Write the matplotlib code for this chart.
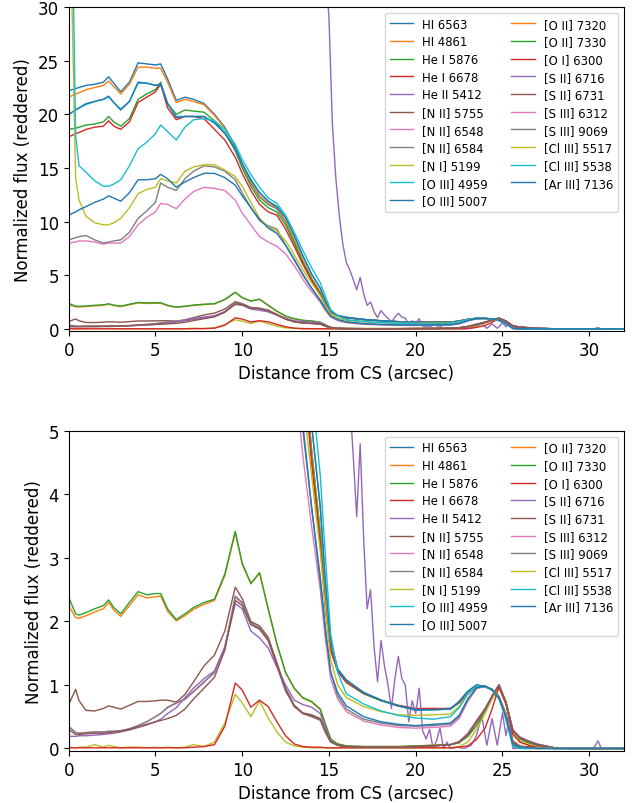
import matplotlib
matplotlib.use("Agg")
import matplotlib.pyplot as plt

# Distance from the central star (arcsec) shared by most profiles
distance = [0, 0.4, 0.6, 1.0, 1.5, 2.0, 2.3, 2.6, 3.0, 3.5,
            4.0, 4.5, 5.0, 5.3, 5.7, 6.2, 6.7, 7.2, 7.8, 8.4,
            9.0, 9.6, 10.0, 10.5, 11.0, 11.5, 12.0, 12.5, 13.0, 13.5,
            14.0, 14.5, 14.8, 15.1, 15.5, 16.0, 17.0, 18.0, 19.0, 20.0,
            21.0, 22.0, 22.5, 23.0, 23.5, 24.0, 24.4, 24.8, 25.2, 25.6,
            26.0, 26.5, 27.0, 28.0, 29.0, 30.0, 31.0, 32.0]

hi_6563 = [22.2, 22.4, 22.5, 22.7, 22.8, 23.0, 23.5, 22.9, 22.1, 23.0,
           24.8, 24.7, 24.6, 24.7, 23.3, 21.3, 21.6, 21.4, 21.0, 20.0,
           18.8, 17.0, 15.3, 13.6, 12.3, 11.6, 11.2, 10.0, 8.2, 6.3,
           4.7, 3.4, 2.3, 1.6, 1.25, 1.06, 0.88, 0.76, 0.67, 0.61,
           0.62, 0.63, 0.73, 0.88, 0.99, 0.98, 0.93, 0.82, 0.55, 0.12,
           0.04, 0.02, 0.01, 0.005, 0, 0, 0, 0]
hi_4861 = [21.6, 21.9, 22.0, 22.3, 22.5, 22.7, 23.1, 22.6, 21.9, 22.8,
           24.4, 24.4, 24.3, 24.3, 23.0, 21.1, 21.4, 21.2, 20.9, 19.9,
           18.7, 16.9, 15.3, 13.7, 12.4, 11.7, 11.3, 10.1, 8.3, 6.4,
           4.7, 3.4, 2.3, 1.6, 1.25, 1.06, 0.88, 0.76, 0.67, 0.61,
           0.62, 0.63, 0.72, 0.88, 0.99, 0.98, 0.93, 0.82, 0.55, 0.12,
           0.04, 0.02, 0.01, 0.005, 0, 0, 0, 0]
he1_5876 = [18.6, 18.7, 18.8, 19.0, 19.1, 19.3, 19.8, 19.3, 18.9, 19.6,
            21.4, 21.9, 22.3, 23.0, 21.0, 20.0, 20.4, 20.3, 20.2, 19.4,
            18.3, 16.6, 15.0, 13.3, 12.0, 11.3, 10.9, 9.7, 8.0, 6.2,
            4.6, 3.3, 2.2, 1.55, 1.22, 1.04, 0.86, 0.75, 0.67, 0.60,
            0.61, 0.62, 0.72, 0.87, 0.98, 0.97, 0.92, 0.80, 0.52, 0.10,
            0.03, 0.02, 0.01, 0, 0, 0, 0, 0]
he1_6678 = [17.9, 18.2, 18.3, 18.6, 18.8, 18.9, 19.4, 18.9, 18.6, 19.3,
            21.1, 21.6, 22.1, 22.8, 20.6, 19.5, 19.8, 19.8, 19.6, 18.6,
            17.6, 16.0, 14.5, 12.9, 11.6, 10.9, 10.6, 9.3, 7.7, 6.0,
            4.5, 3.2, 2.2, 1.55, 1.22, 1.04, 0.87, 0.76, 0.68, 0.63,
            0.63, 0.63, 0.72, 0.87, 0.98, 0.97, 0.92, 0.80, 0.52, 0.10,
            0.03, 0.02, 0.01, 0, 0, 0, 0, 0]

# He II 5412 is sampled on its own, finer grid
he2_distance = [0, 4, 8, 12, 14, 14.6, 15.0, 15.2, 15.4, 15.6,
                15.8, 16.0, 16.2, 16.4, 16.6, 16.8, 17.0, 17.2, 17.4, 17.6,
                17.8, 18.0, 18.2, 18.4, 18.6, 18.8, 19.0, 19.2, 19.4, 19.6,
                19.8, 20.0, 20.2, 20.4, 20.6, 20.8, 21.0, 21.2, 21.4, 21.6,
                21.8, 22.0, 22.4, 22.8, 23.2, 23.5, 23.8, 24.1, 24.4, 24.7,
                25.0, 25.2, 25.4, 25.6, 26.0, 27.0, 28.0, 29.0, 30.0, 30.3,
                30.5, 30.7, 31.0, 32.0]
he2_5412 = [120, 115, 105, 80, 50, 38, 29, 19, 14, 10.5,
            7.9, 6.2, 5.5, 4.6, 3.65, 4.8, 3.3, 2.2, 2.5, 1.6,
            1.05, 1.7, 1.3, 1.0, 0.63, 1.1, 1.45, 1.1, 1.0, 0.42,
            0.75, 0.55, 0.95, 0.28, 0.15, 0.3, 0.0, 0.12, 0.32, 0.0,
            0.1, 0.0, 0.02, 0.0, 0.05, 0.2, 0.52, 0.05, 0.47, 0.05,
            0.56, 0.2, 0.5, 0.0, 0.0, 0.0, 0.01, 0.0, 0.0, 0.02,
            0.12, 0.0, 0.0, 0.0]

nii_5755 = [0.69, 0.93, 0.75, 0.60, 0.59, 0.63, 0.67, 0.65, 0.62, 0.68,
            0.74, 0.74, 0.75, 0.76, 0.76, 0.73, 0.85, 1.05, 1.30, 1.47,
            1.85, 2.54, 2.36, 2.00, 1.93, 1.75, 1.35, 0.95, 0.68, 0.56,
            0.53, 0.47, 0.28, 0.11, 0.05, 0.03, 0.02, 0.02, 0.02, 0.03,
            0.04, 0.06, 0.10, 0.22, 0.42, 0.62, 0.82, 1.00, 0.72, 0.28,
            0.17, 0.11, 0.06, 0.01, 0, 0, 0, 0]
nii_6548 = [0.34, 0.25, 0.24, 0.25, 0.26, 0.26, 0.27, 0.27, 0.28, 0.31,
            0.36, 0.42, 0.50, 0.55, 0.64, 0.71, 0.77, 0.89, 1.04, 1.19,
            1.58, 2.38, 2.28, 1.96, 1.88, 1.70, 1.30, 0.92, 0.66, 0.55,
            0.50, 0.44, 0.25, 0.10, 0.05, 0.03, 0.02, 0.02, 0.02, 0.03,
            0.04, 0.06, 0.11, 0.24, 0.44, 0.63, 0.82, 0.99, 0.73, 0.30,
            0.18, 0.12, 0.07, 0.01, 0, 0, 0, 0]
nii_6584 = [0.35, 0.25, 0.24, 0.25, 0.26, 0.26, 0.27, 0.27, 0.28, 0.31,
            0.36, 0.42, 0.50, 0.55, 0.65, 0.72, 0.78, 0.90, 1.05, 1.20,
            1.60, 2.40, 2.30, 1.98, 1.90, 1.72, 1.30, 0.90, 0.68, 0.55,
            0.50, 0.45, 0.25, 0.10, 0.05, 0.03, 0.02, 0.02, 0.02, 0.03,
            0.04, 0.06, 0.10, 0.22, 0.42, 0.62, 0.82, 1.00, 0.72, 0.28,
            0.17, 0.11, 0.06, 0.01, 0, 0, 0, 0]
ni_5199 = [0.02, 0.01, 0.02, 0.02, 0.06, 0.02, 0.05, 0.03, 0.01, 0.02,
           0.02, 0.01, 0.02, 0.01, 0.02, 0.01, 0.02, 0.06, 0.03, 0.10,
           0.40, 0.85, 0.72, 0.50, 0.75, 0.48, 0.26, 0.10, 0.04, 0.02,
           0.01, 0.01, 0.01, 0.01, 0.01, 0.01, 0.01, 0.01, 0.01, 0.01,
           0.01, 0.01, 0.03, 0.10, 0.30, 0.55, 0.78, 0.95, 0.70, 0.25,
           0.12, 0.06, 0.02, 0, 0, 0, 0, 0]
oiii_4959 = [20.0, 20.4, 20.6, 20.9, 21.2, 21.4, 21.6, 21.1, 20.5, 21.2,
             22.9, 22.9, 22.7, 22.8, 21.0, 19.8, 19.8, 19.8, 19.8, 19.2,
             18.3, 16.9, 15.4, 13.9, 12.7, 11.9, 11.4, 10.4, 8.7, 6.8,
             5.1, 3.8, 2.6, 1.7, 1.25, 1.08, 0.88, 0.76, 0.67, 0.61,
             0.61, 0.62, 0.74, 0.90, 1.0, 0.98, 0.92, 0.78, 0.50, 0.08,
             0.02, 0.01, 0.005, 0, 0, 0, 0, 0]
oiii_5007 = [20.0, 20.4, 20.6, 21.0, 21.2, 21.4, 21.7, 21.1, 20.4, 21.2,
             23.0, 22.9, 22.7, 22.8, 21.0, 19.7, 19.8, 19.8, 19.8, 19.2,
             18.2, 16.8, 15.4, 13.9, 12.7, 11.9, 11.4, 10.4, 8.7, 6.8,
             5.1, 3.8, 2.6, 1.7, 1.25, 1.08, 0.88, 0.76, 0.67, 0.61,
             0.61, 0.62, 0.74, 0.90, 1.0, 0.98, 0.92, 0.78, 0.50, 0.08,
             0.02, 0.01, 0.005, 0, 0, 0, 0, 0]
oii_7320 = [2.25, 2.06, 2.05, 2.09, 2.15, 2.20, 2.30, 2.18, 2.08, 2.25,
            2.42, 2.37, 2.39, 2.40, 2.16, 2.01, 2.09, 2.19, 2.27, 2.33,
            2.72, 3.40, 2.90, 2.59, 2.76, 2.19, 1.64, 1.19, 0.94, 0.79,
            0.73, 0.61, 0.37, 0.15, 0.07, 0.04, 0.03, 0.03, 0.03, 0.04,
            0.05, 0.06, 0.09, 0.19, 0.36, 0.60, 0.82, 0.99, 0.74, 0.28,
            0.15, 0.09, 0.05, 0.01, 0, 0, 0, 0]
oii_7330 = [2.38, 2.12, 2.10, 2.14, 2.20, 2.25, 2.34, 2.22, 2.12, 2.30,
            2.47, 2.42, 2.44, 2.44, 2.20, 2.03, 2.12, 2.22, 2.30, 2.35,
            2.75, 3.42, 2.92, 2.60, 2.77, 2.20, 1.65, 1.20, 0.95, 0.80,
            0.74, 0.62, 0.38, 0.15, 0.07, 0.04, 0.03, 0.03, 0.03, 0.04,
            0.05, 0.06, 0.09, 0.19, 0.36, 0.60, 0.82, 0.99, 0.74, 0.28,
            0.15, 0.09, 0.05, 0.01, 0, 0, 0, 0]
oi_6300 = [0.01, 0.01, 0.01, 0.01, 0.01, 0.01, 0.01, 0.01, 0.01, 0.01,
           0.01, 0.01, 0.01, 0.01, 0.01, 0.01, 0.01, 0.02, 0.03, 0.06,
           0.35, 1.03, 0.92, 0.65, 0.76, 0.66, 0.42, 0.20, 0.07, 0.03,
           0.02, 0.02, 0.01, 0.01, 0.01, 0.01, 0.01, 0.01, 0.01, 0.01,
           0.01, 0.01, 0.02, 0.04, 0.14, 0.32, 0.62, 0.97, 0.70, 0.22,
           0.10, 0.05, 0.02, 0, 0, 0, 0, 0]
sii_6716 = [0.19, 0.19, 0.20, 0.20, 0.21, 0.22, 0.23, 0.24, 0.26, 0.29,
            0.33, 0.37, 0.42, 0.46, 0.55, 0.64, 0.80, 0.95, 1.10, 1.22,
            1.60, 2.28, 2.20, 1.85, 1.74, 1.58, 1.28, 1.00, 0.76, 0.69,
            0.65, 0.55, 0.32, 0.12, 0.05, 0.03, 0.02, 0.02, 0.02, 0.03,
            0.04, 0.06, 0.10, 0.22, 0.42, 0.62, 0.82, 1.00, 0.72, 0.28,
            0.18, 0.12, 0.07, 0.01, 0, 0, 0, 0]
sii_6731 = [0.30, 0.22, 0.22, 0.23, 0.24, 0.24, 0.25, 0.26, 0.27, 0.30,
            0.34, 0.38, 0.42, 0.44, 0.47, 0.52, 0.62, 0.78, 0.95, 1.12,
            1.55, 2.33, 2.25, 1.95, 1.88, 1.70, 1.32, 0.93, 0.66, 0.55,
            0.52, 0.46, 0.27, 0.11, 0.05, 0.03, 0.02, 0.02, 0.02, 0.03,
            0.04, 0.06, 0.10, 0.22, 0.42, 0.62, 0.82, 1.00, 0.72, 0.28,
            0.17, 0.11, 0.06, 0.01, 0, 0, 0, 0]
siii_6312 = [8.0, 8.1, 8.2, 8.2, 8.1, 7.9, 8.0, 8.0, 8.0, 8.6,
             9.7, 10.4, 10.9, 11.7, 11.6, 11.2, 12.1, 12.8, 13.2, 13.1,
             12.9, 12.0, 10.8, 9.7, 8.6, 8.1, 7.7, 7.0, 5.9, 4.6,
             3.5, 2.5, 1.7, 1.1, 0.78, 0.58, 0.43, 0.37, 0.33, 0.32,
             0.33, 0.35, 0.47, 0.74, 0.94, 0.98, 0.93, 0.80, 0.50, 0.06,
             0.02, 0.01, 0, 0, 0, 0, 0, 0]
siii_9069 = [8.3, 8.5, 8.6, 8.7, 8.3, 8.0, 8.1, 8.2, 8.3, 9.0,
             10.3, 11.0, 11.8, 13.6, 13.2, 12.9, 14.0, 14.7, 15.2, 15.1,
             14.7, 13.9, 12.7, 11.3, 10.1, 9.6, 9.3, 7.8, 6.4, 5.0,
             3.8, 2.6, 1.8, 1.2, 0.83, 0.62, 0.46, 0.40, 0.36, 0.35,
             0.36, 0.38, 0.50, 0.76, 0.95, 0.98, 0.93, 0.80, 0.50, 0.06,
             0.02, 0.01, 0, 0, 0, 0, 0, 0]
cliii_5517 = [45.0, 14.0, 12.0, 10.5, 9.9, 9.7, 9.7, 9.9, 10.3, 11.3,
              12.6, 13.0, 13.2, 14.0, 13.8, 13.6, 14.7, 15.1, 15.3, 15.3,
              14.8, 14.2, 13.3, 11.8, 10.3, 9.5, 9.1, 8.2, 6.9, 5.5,
              4.3, 3.1, 2.2, 1.4, 1.0, 0.80, 0.66, 0.58, 0.53, 0.52,
              0.53, 0.54, 0.66, 0.86, 0.98, 0.97, 0.93, 0.80, 0.48, 0.04,
              0, 0, 0, 0, 0, 0, 0, 0]
cliii_5538 = [60.0, 18.0, 15.2, 14.6, 13.8, 13.3, 13.3, 13.5, 13.9, 15.2,
              16.8, 17.4, 18.2, 19.0, 18.4, 17.6, 18.8, 19.5, 19.6, 19.4,
              18.6, 17.2, 15.8, 14.4, 13.2, 12.2, 11.7, 10.6, 9.0, 7.3,
              5.7, 4.3, 3.0, 1.8, 1.2, 0.86, 0.70, 0.59, 0.52, 0.48,
              0.46, 0.50, 0.64, 0.85, 0.98, 0.97, 0.93, 0.80, 0.45, 0.03,
              0, 0, 0, 0, 0, 0, 0, 0]
ariii_7136 = [10.6, 10.9, 11.1, 11.4, 11.8, 12.1, 12.4, 12.2, 11.9, 12.7,
              13.9, 13.9, 14.0, 14.4, 14.0, 13.2, 13.7, 14.1, 14.5, 14.5,
              14.1, 13.4, 12.4, 11.3, 10.2, 9.4, 8.9, 7.8, 6.5, 5.1,
              3.8, 2.7, 1.9, 1.2, 0.88, 0.67, 0.50, 0.42, 0.38, 0.36,
              0.38, 0.40, 0.52, 0.78, 0.96, 0.98, 0.93, 0.80, 0.50, 0.06,
              0.02, 0.01, 0, 0, 0, 0, 0, 0]

line_labels = ["HI 6563", "HI 4861", "He I 5876", "He I 6678", "He II 5412",
               "[N II] 5755", "[N II] 6548", "[N II] 6584", "[N I] 5199",
               "[O III] 4959", "[O III] 5007", "[O II] 7320", "[O II] 7330",
               "[O I] 6300", "[S II] 6716", "[S II] 6731", "[S III] 6312",
               "[S III] 9069", "[Cl III] 5517", "[Cl III] 5538", "[Ar III] 7136"]
profiles = [hi_6563, hi_4861, he1_5876, he1_6678, he2_5412,
            nii_5755, nii_6548, nii_6584, ni_5199,
            oiii_4959, oiii_5007, oii_7320, oii_7330,
            oi_6300, sii_6716, sii_6731, siii_6312,
            siii_9069, cliii_5517, cliii_5538, ariii_7136]

plt.rcParams["font.size"] = 12

fig = plt.figure(figsize=(6.36, 8.04), dpi=100)
ax_full = fig.add_axes([0.108, 0.587, 0.873, 0.403])
ax_zoom = fig.add_axes([0.108, 0.0647, 0.873, 0.398])

for ax, ytop, ybottom in ((ax_full, 30, -0.2), (ax_zoom, 5, -0.04)):
    for label, prof in zip(line_labels, profiles):
        xs = he2_distance if prof is he2_5412 else distance
        ax.plot(xs, prof, lw=1.0, label=label)
    ax.set_xlim(0, 32)
    ax.set_ylim(ybottom, ytop)
    ax.set_xlabel("Distance from CS (arcsec)")
    ax.set_ylabel("Normalized flux (reddered)")
    ax.legend(ncol=2, fontsize=8.4, labelspacing=0.4, loc="upper right")

fig.savefig("out.png", dpi=100)
